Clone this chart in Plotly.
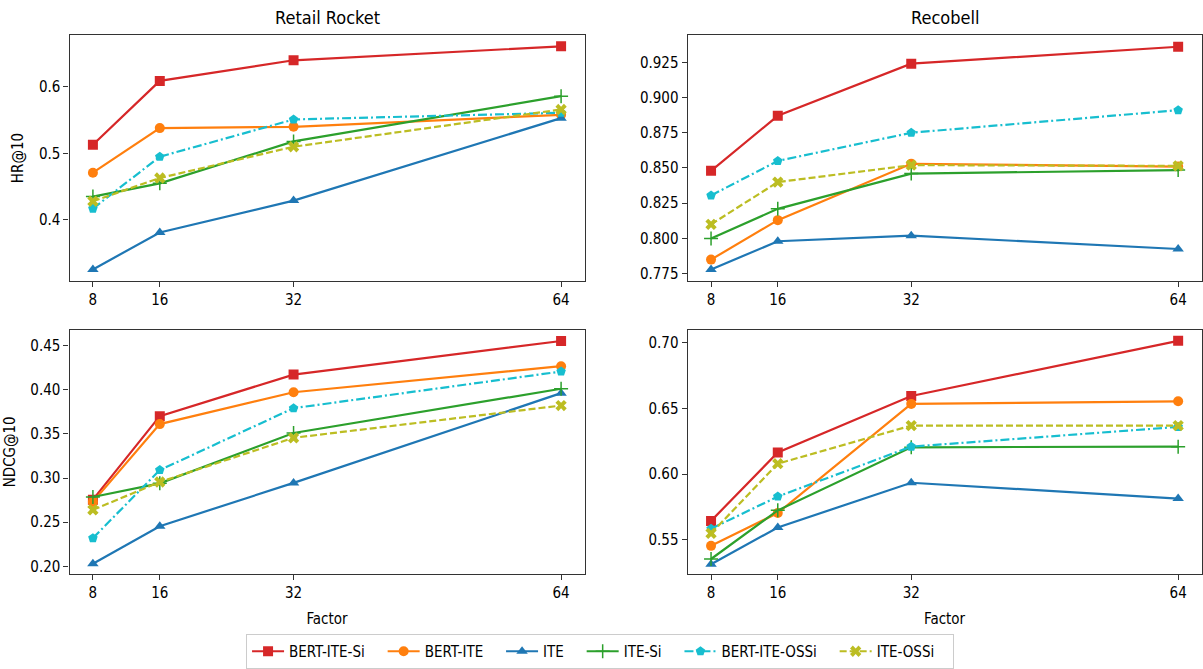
import plotly.graph_objects as go

factors = [8, 16, 32, 64]
series_names = ["BERT-ITE-Si", "BERT-ITE", "ITE", "ITE-Si", "BERT-ITE-OSSi", "ITE-OSSi"]

# Retail Rocket HR@10
rr_hr_bert_ite_si = [0.513, 0.609, 0.640, 0.661]
rr_hr_bert_ite = [0.471, 0.538, 0.540, 0.558]
rr_hr_ite = [0.3255, 0.381, 0.429, 0.553]
rr_hr_ite_si = [0.435, 0.455, 0.518, 0.586]
rr_hr_bert_ite_ossi = [0.417, 0.495, 0.551, 0.561]
rr_hr_ite_ossi = [0.428, 0.463, 0.510, 0.566]

# Recobell HR@10
rb_hr_bert_ite_si = [0.848, 0.887, 0.924, 0.936]
rb_hr_bert_ite = [0.785, 0.813, 0.853, 0.851]
rb_hr_ite = [0.778, 0.798, 0.802, 0.7925]
rb_hr_ite_si = [0.800, 0.821, 0.846, 0.8485]
rb_hr_bert_ite_ossi = [0.8305, 0.855, 0.875, 0.891]
rb_hr_ite_ossi = [0.810, 0.840, 0.852, 0.8515]

# Retail Rocket NDCG@10
rr_ndcg_bert_ite_si = [0.2755, 0.370, 0.417, 0.455]
rr_ndcg_bert_ite = [0.273, 0.361, 0.397, 0.4265]
rr_ndcg_ite = [0.203, 0.2455, 0.2945, 0.396]
rr_ndcg_ite_si = [0.2785, 0.294, 0.351, 0.401]
rr_ndcg_bert_ite_ossi = [0.232, 0.309, 0.379, 0.4205]
rr_ndcg_ite_ossi = [0.264, 0.2955, 0.3455, 0.382]

# Recobell NDCG@10
rb_ndcg_bert_ite_si = [0.5645, 0.6165, 0.6595, 0.7015]
rb_ndcg_bert_ite = [0.5455, 0.5705, 0.6535, 0.6555]
rb_ndcg_ite = [0.5315, 0.5595, 0.5935, 0.5815]
rb_ndcg_ite_si = [0.5355, 0.5725, 0.6205, 0.621]
rb_ndcg_bert_ite_ossi = [0.5585, 0.583, 0.621, 0.636]
rb_ndcg_ite_ossi = [0.555, 0.608, 0.637, 0.637]

panels = [
    ([rr_hr_bert_ite_si, rr_hr_bert_ite, rr_hr_ite, rr_hr_ite_si, rr_hr_bert_ite_ossi, rr_hr_ite_ossi], "x", "y"),
    ([rb_hr_bert_ite_si, rb_hr_bert_ite, rb_hr_ite, rb_hr_ite_si, rb_hr_bert_ite_ossi, rb_hr_ite_ossi], "x2", "y2"),
    ([rr_ndcg_bert_ite_si, rr_ndcg_bert_ite, rr_ndcg_ite, rr_ndcg_ite_si, rr_ndcg_bert_ite_ossi, rr_ndcg_ite_ossi], "x3", "y3"),
    ([rb_ndcg_bert_ite_si, rb_ndcg_bert_ite, rb_ndcg_ite, rb_ndcg_ite_si, rb_ndcg_bert_ite_ossi, rb_ndcg_ite_ossi], "x4", "y4"),
]

colors = ["#d62728", "#ff7f0e", "#1f77b4", "#2ca02c", "#17becf", "#bcbd22"]
symbols = ["square", "circle", "triangle-up", "cross-thin", "pentagon", "x"]
sizes = [10, 10, 10, 10, 10, 10]
dashes = ["solid", "solid", "solid", "solid", "9px,3px,2px,3px", "7px,3px"]

FONT = "DejaVu Sans Condensed, Liberation Sans Narrow, DejaVu Sans, sans-serif"
PAD = "\u00a0\u00a0\u00a0"

fig = go.Figure()
for pi, (vals, xa, ya) in enumerate(panels):
    for si, name in enumerate(series_names):
        mk = dict(symbol=symbols[si], size=sizes[si], color=colors[si])
        if symbols[si] == "cross-thin":
            mk["line"] = dict(color=colors[si], width=1.5)
        else:
            mk["line"] = dict(width=0)
        fig.add_trace(go.Scatter(
            x=factors, y=vals[si], xaxis=xa, yaxis=ya, name=name + PAD,
            mode="lines+markers",
            line=dict(color=colors[si], width=2.2, dash=dashes[si]),
            marker=mk, showlegend=(pi == 0), hoverinfo="skip",
        ))

W, H = 1203, 669
L_dom = [69.5 / W, 584.5 / W]
R_dom = [687.7 / W, 1201.5 / W]
T_dom = [1 - 282 / H, 1 - 35.5 / H]
B_dom = [1 - 576.7 / H, 1 - 331 / H]

tickfont = dict(family=FONT, size=15, color="#000")
common_x = dict(tickvals=factors, ticktext=[str(f) for f in factors], range=[5.2, 66.8],
                showgrid=False, zeroline=False, showline=True, mirror=True,
                linecolor="#333", linewidth=1.3, ticks="outside", ticklen=5,
                tickcolor="#333", tickfont=tickfont)
common_y = dict(showgrid=False, zeroline=False, showline=True, mirror=True,
                linecolor="#333", linewidth=1.3, ticks="outside", ticklen=5,
                tickcolor="#333", tickfont=tickfont)

fig.update_layout(
    width=W, height=H, margin=dict(l=0, r=0, t=0, b=0),
    paper_bgcolor="white", plot_bgcolor="white",
    font=dict(family=FONT, size=15, color="#000"),
    xaxis=dict(domain=L_dom, anchor="y", **common_x),
    yaxis=dict(domain=T_dom, anchor="x", range=[0.3085, 0.6775],
               tickvals=[0.4, 0.5, 0.6], ticktext=["0.4", "0.5", "0.6"],
               title=dict(text="HR@10", font=dict(family=FONT, size=15), standoff=11), **common_y),
    xaxis2=dict(domain=R_dom, anchor="y2", **common_x),
    yaxis2=dict(domain=T_dom, anchor="x2", range=[0.770, 0.9441],
                tickvals=[0.775, 0.8, 0.825, 0.85, 0.875, 0.9, 0.925], tickformat=".3f", **common_y),
    xaxis3=dict(domain=L_dom, anchor="y3",
                title=dict(text="Factor", font=dict(family=FONT, size=15), standoff=12), **common_x),
    yaxis3=dict(domain=B_dom, anchor="x3", range=[0.1913, 0.468],
                tickvals=[0.2, 0.25, 0.3, 0.35, 0.4, 0.45], tickformat=".2f",
                title=dict(text="NDCG@10", font=dict(family=FONT, size=15), standoff=11), **common_y),
    xaxis4=dict(domain=R_dom, anchor="y4",
                title=dict(text="Factor", font=dict(family=FONT, size=15), standoff=12), **common_x),
    yaxis4=dict(domain=B_dom, anchor="x4", range=[0.524, 0.7101],
                tickvals=[0.55, 0.6, 0.65, 0.7], tickformat=".2f", **common_y),
    legend=dict(orientation="h", x=0.4988, xanchor="center", y=1 - 637 / H, yanchor="top",
                bordercolor="#cccccc", borderwidth=1, bgcolor="white",
                font=dict(family=FONT, size=15), itemwidth=32, tracegroupgap=0),
    annotations=[
        dict(text="Retail Rocket", x=(L_dom[0] + L_dom[1]) / 2, y=1 - 18 / H, xref="paper", yref="paper",
             showarrow=False, font=dict(family=FONT, size=18), xanchor="center", yanchor="middle"),
        dict(text="Recobell", x=(R_dom[0] + R_dom[1]) / 2, y=1 - 18 / H, xref="paper", yref="paper",
             showarrow=False, font=dict(family=FONT, size=18), xanchor="center", yanchor="middle"),
    ],
)

fig.write_html("out.html")
